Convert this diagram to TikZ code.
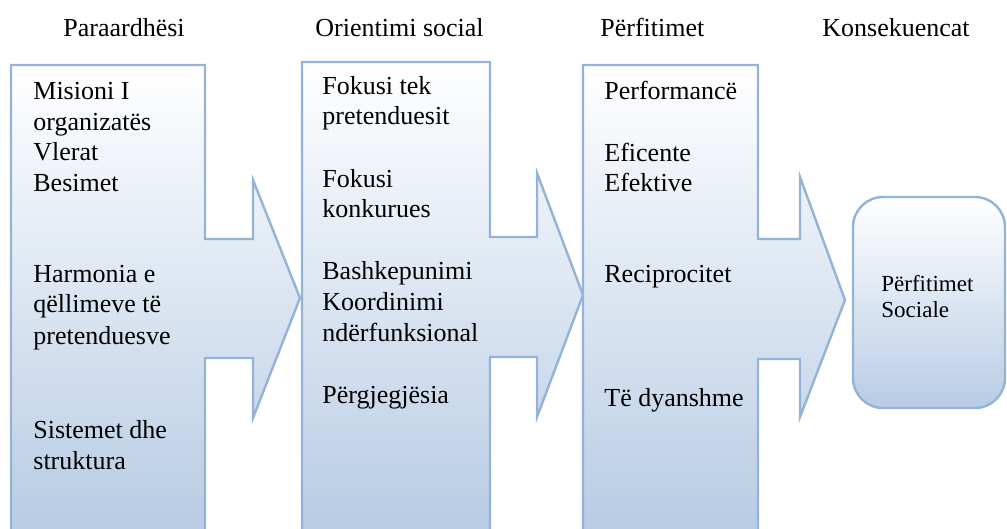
\documentclass[tikz,border=0pt]{standalone}
\usepackage{fontspec}
\setmainfont{Liberation Serif}
\definecolor{edgeblue}{RGB}{149,179,215}
\definecolor{fillblue}{RGB}{173,196,224}
\definecolor{endblue}{RGB}{184,204,229}
\begin{document}
\begin{tikzpicture}[x=.5pt,y=-.5pt,
    arrowbox/.style={draw=edgeblue,line width=1.2pt,top color=white,bottom color=fillblue,line join=miter},
    lbl/.style={anchor=base west,inner sep=0,font=\fontsize{13}{15}\selectfont},
    smalllbl/.style={anchor=base west,inner sep=0,font=\fontsize{11.5}{13}\selectfont}]
\clip (0,0) rectangle (1007,529);

% the three arrows
\foreach \xl/\yt/\xr/\xw/\xt/\ya/\yb/\yc/\yd/\ym in {
11/65/205/253/300/239/358/180/418/298,
302/62/490/537/583/237/357/173/417/295,
583/65/758/800/845/239/359/177/417/300}{
    \path[arrowbox] (\xl,600) -- (\xl,\yt) -- (\xr,\yt) -- (\xr,\ya) -- (\xw,\ya) -- (\xw,\yc)
        -- (\xt,\ym) -- (\xw,\yd) -- (\xw,\yb) -- (\xr,\yb) -- (\xr,600) -- cycle;
}
\path[arrowbox,bottom color=endblue,rounded corners=15pt] (853,197) rectangle (1005,408);

% headings
\foreach \t/\x [count=\i] in {Paraardhësi/63, Orientimi social/315, Përfitimet/600, Konsekuencat/822}{
    \node[lbl] (h\i) at (\x,37) {\t};
}

\foreach \t/\y [count=\i] in {Misioni I/100, organizatës/131, Vlerat/161, Besimet/192,
    Harmonia e/283, qëllimeve të/313, pretenduesve/344, Sistemet dhe/438, struktura/469}{
    \node[lbl] (a\i) at (33,\y) {\t};
}
\foreach \t/\y [count=\i] in {Fokusi tek/95, pretenduesit/125, Fokusi/188, konkurues/218,
    Bashkepunimi/280, Koordinimi/311, ndërfunksional/342, Përgjegjësia/403}{
    \node[lbl] (b\i) at (322,\y) {\t};
}
\foreach \t/\y [count=\i] in {Performancë/100, Eficente/162, Efektive/192, Reciprocitet/283, Të dyanshme/407}{
    \node[lbl] (c\i) at (604,\y) {\t};
}
\node[smalllbl] (d1) at (881,292) {Përfitimet};
\node[smalllbl] (d2) at (881,318) {Sociale};
\end{tikzpicture}
\end{document}
